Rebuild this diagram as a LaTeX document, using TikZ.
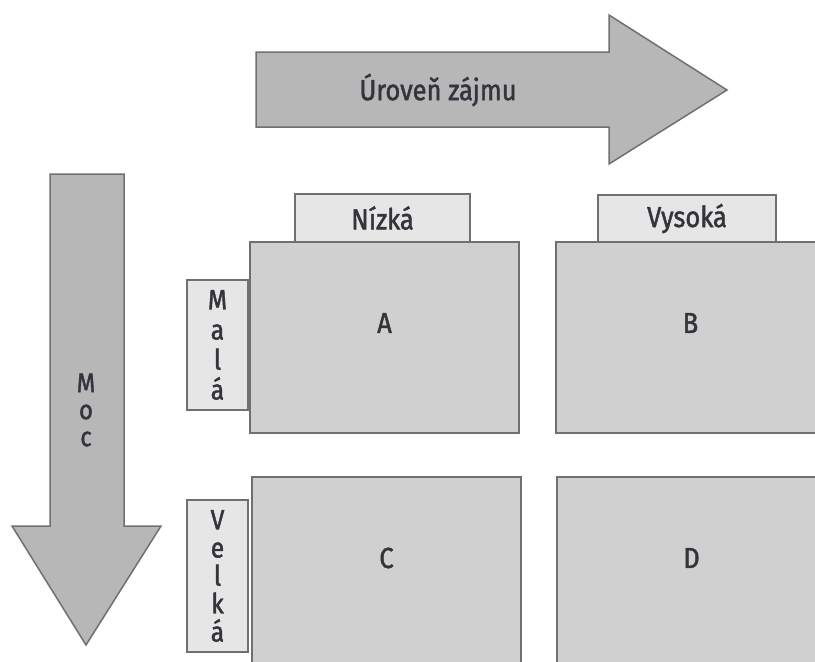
\documentclass[tikz,border=0pt]{standalone}
\usepackage{fontspec}
\setmainfont{Fira Sans}[FakeStretch=0.88, FakeBold=1.6]
\usetikzlibrary{positioning,calc}
\definecolor{arrowgray}{RGB}{183,183,183}
\definecolor{quadgray}{RGB}{208,208,208}
\definecolor{tabgray}{RGB}{230,230,230}
\definecolor{edgegray}{RGB}{112,112,112}
\definecolor{inkgray}{RGB}{52,52,60}
\tikzset{bigarrow/.style={draw=edgegray, line width=1.5pt, fill=arrowgray, line join=miter}}
\tikzset{quad/.style={draw=edgegray, line width=1.6pt, fill=quadgray, inner sep=0pt, outer sep=0pt,
	minimum width=269pt, minimum height=191pt}}
\tikzset{tab/.style={draw=edgegray, line width=1.4pt, fill=tabgray, inner sep=0pt, outer sep=0pt,
	text=inkgray, font=\fontsize{28}{30}\selectfont, align=center}}
\tikzset{lbl/.style={text=inkgray, font=\fontsize{29}{28}\selectfont, inner sep=0pt, align=center}}

\begin{document}
\begin{tikzpicture}[x=1pt, y=-1pt]
	\useasboundingbox (0,0) rectangle (815,662);
	\clip (0,0) rectangle (815,662);
	% arrows
	\draw[bigarrow] (256,52) -- (609,52) -- (609,15) -- (727,90)
		-- (609,164) -- (609,127) -- (256,127) -- cycle;
	\node[lbl] (interest) at (438,90) {Úroveň zájmu};
	\draw[bigarrow] (50,174) -- (124,174) -- (124,526) -- (161,526)
		-- (86,645) -- (12,526) -- (50,526) -- cycle;
	\node[lbl, font=\fontsize{27}{27}\selectfont] (power) at (86,410) {M\\o\\c};
	%
	% tabs
	\node[tab, anchor=south west, minimum width=175pt, minimum height=48pt,
		font=\fontsize{29}{30}\selectfont] (low) at (295,242) {Nízká};
	\node[tab, anchor=south west, minimum width=178pt, minimum height=47pt,
		font=\fontsize{29}{30}\selectfont] (high) at (598,242) {Vysoká};
	\node[tab, anchor=north east, minimum width=61pt, minimum height=130pt] (small) at (248,280) {M\\a\\l\\á};
	\node[tab, anchor=north east, minimum width=61pt, minimum height=152pt,
		font=\fontsize{28}{28}\selectfont] (big) at (248,500) {V\\e\\l\\k\\á};
	%
	% quadrants
	\node[quad, anchor=north west] (A) at (250,242) {};
	\node[quad, anchor=north west] (B) at (556,242) {};
	\node[quad, anchor=north west] (C) at (252,477) {};
	\node[quad, anchor=north west] (D) at (557,477) {};
	\foreach \q in {A,B,C,D}
		\node[lbl] at ([yshift=-81pt]\q.north) {\q};
\end{tikzpicture}
\end{document}
